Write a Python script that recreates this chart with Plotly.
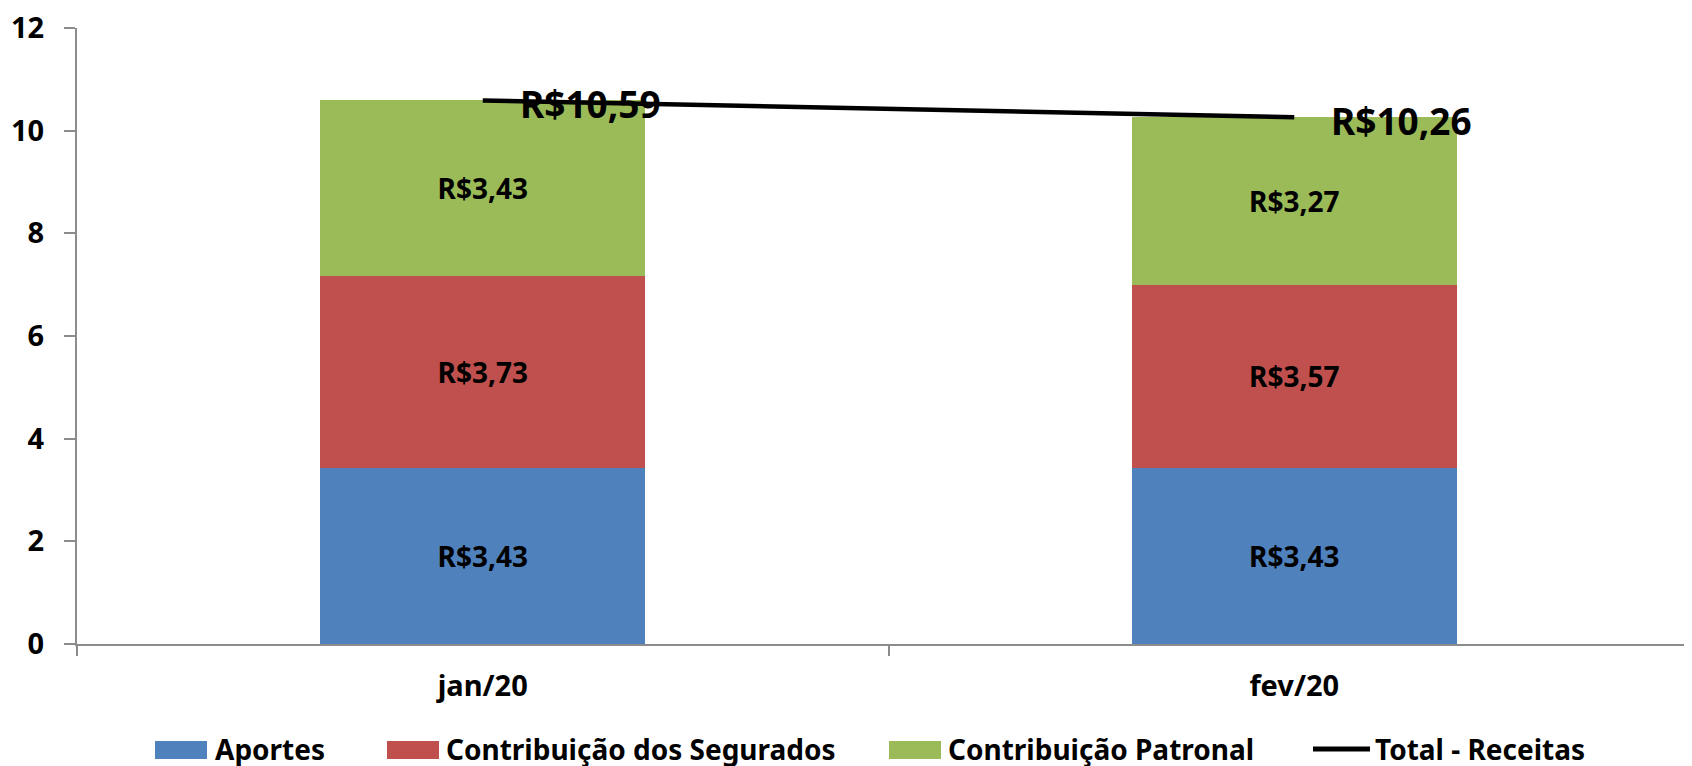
import plotly.graph_objects as go

categories = ["jan/20", "fev/20"]
aportes = [3.43, 3.43]
segurados = [3.73, 3.57]
patronal = [3.43, 3.27]
total = [10.59, 10.26]
y_ticks = [0, 2, 4, 6, 8, 10, 12]

series_names = ["Aportes", "Contribuição dos Segurados", "Contribuição Patronal"]
total_name = "Total - Receitas"
colors = ["#4F81BD", "#C0504D", "#9BBB59"]

FONT = "Noto Sans"
AXIS_COLOR = "#8c8c8c"

# layout geometry (page pixels)
W, H = 1692, 766
ML, MR, MT, MB = 69, 0, 20, 130
PW, PH = W - ML - MR, H - MT - MB
OFF = 8  # page body margin


def px(sx):
    return (sx - OFF - ML) / PW


def py(sy):
    return (H - MB - (sy - OFF)) / PH


fig = go.Figure()

for name, vals, color in zip(series_names, [aportes, segurados, patronal], colors):
    fig.add_trace(go.Bar(
        x=categories, y=vals, name=name, showlegend=False,
        marker=dict(color=color, line=dict(width=0)),
        texttemplate="R$%{y:.2f}", textposition="inside",
        insidetextanchor="middle", textangle=0,
        textfont=dict(family=FONT, size=28, color="black", weight="bold"),
        width=0.4,
    ))

fig.add_trace(go.Scatter(
    x=categories, y=total, name=total_name, mode="lines", showlegend=False,
    line=dict(color="black", width=4.5),
))

for c, v in zip(categories, total):
    fig.add_annotation(
        x=c, y=v, text=f"R${v:.2f}".replace(".", ","), showarrow=False,
        xanchor="left", yanchor="middle", xshift=35, yshift=-3,
        font=dict(family=FONT, size=37, color="black", weight="bold"),
    )

# custom legend (swatch left edge, swatch right edge, text left edge) in screen px
legend_items = [
    (series_names[0], colors[0], 155, 207, 213),
    (series_names[1], colors[1], 387, 439, 444),
    (series_names[2], colors[2], 889, 941, 946),
]
LEG_Y = 750
for name, color, x0, x1, tx in legend_items:
    fig.add_shape(type="rect", xref="paper", yref="paper",
                  x0=px(x0), x1=px(x1), y0=py(LEG_Y - 9), y1=py(LEG_Y + 9),
                  fillcolor=color, line=dict(width=0), layer="above")
    fig.add_annotation(xref="paper", yref="paper", x=px(tx), y=py(LEG_Y - 1),
                       text=name, showarrow=False, xanchor="left", yanchor="middle",
                       font=dict(family=FONT, size=28, color="black", weight="bold"))
fig.add_shape(type="line", xref="paper", yref="paper",
              x0=px(1313), x1=px(1370), y0=py(749), y1=py(749),
              line=dict(color="black", width=5), layer="above")
fig.add_annotation(xref="paper", yref="paper", x=px(1373), y=py(LEG_Y - 1),
                   text=total_name, showarrow=False, xanchor="left", yanchor="middle",
                   font=dict(family=FONT, size=28, color="black", weight="bold"))

fig.update_layout(
    width=W, height=H,
    barmode="stack",
    separators=",.",
    showlegend=False,
    plot_bgcolor="white", paper_bgcolor="white",
    margin=dict(l=ML, r=MR, t=MT, b=MB, autoexpand=False),
    font=dict(family=FONT, color="black"),
    xaxis=dict(
        type="category", range=[-0.5, 1.5], automargin=False,
        showline=True, linecolor=AXIS_COLOR, linewidth=2,
        ticks="outside", tickson="boundaries", ticklen=10, tickcolor=AXIS_COLOR,
        tickwidth=1.5,
        tickfont=dict(family=FONT, size=29, color="black", weight="bold"),
        ticklabelstandoff=15,
        showgrid=False,
    ),
    yaxis=dict(
        range=[0, 12], tickvals=y_ticks, automargin=False,
        showline=True, linecolor=AXIS_COLOR, linewidth=2,
        ticks="outside", ticklen=11, tickcolor=AXIS_COLOR, tickwidth=1.5,
        tickfont=dict(family=FONT, size=29, color="black", weight="bold"),
        ticklabelstandoff=14, ticklabeloverflow="allow",
        showgrid=False, zeroline=False,
    ),
)

fig.write_html("out.html")
